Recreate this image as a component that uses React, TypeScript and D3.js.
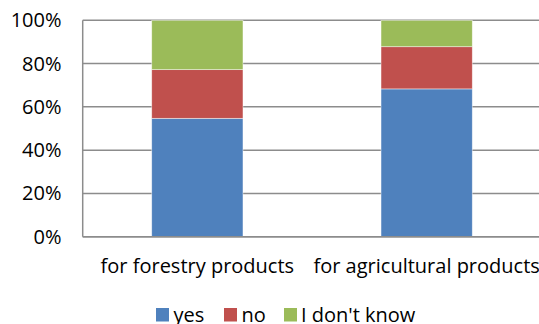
import React from "react";
import * as d3 from "d3";

const categories = ["for forestry products", "for agricultural products"];
const seriesNames = ["yes", "no", "I don't know"];
const yesValues = [54.7, 68.3];
const noValues = [22.5, 19.5];
const dontKnowValues = [22.8, 12.2];
const yTicks = [0, 20, 40, 60, 80, 100];
const colors = ["#4F81BD", "#C0504D", "#9BBB59"];

const W = 539;
const H = 324;
const plot = { left: 82.7, right: 541.3, top: 20.3, bottom: 236.7 };
const FONT = "'Open Sans', sans-serif";
const FS = 20;

export default function App() {
  const rows = categories.map((c, i) => ({
    category: c,
    yes: yesValues[i],
    no: noValues[i],
    "I don't know": dontKnowValues[i],
  }));
  const stacked = d3.stack<any>().keys(seriesNames)(rows);

  const x = d3
    .scaleBand<string>()
    .domain(categories)
    .range([plot.left, plot.right])
    .paddingInner(0.602)
    .paddingOuter(0.301);
  const y = d3.scaleLinear().domain([0, 100]).range([plot.bottom, plot.top]);

  const legendItems = [
    { name: "yes", sx: 156, tx: 173.5 },
    { name: "no", sx: 224, tx: 241.5 },
    { name: "I don't know", sx: 284, tx: 301 },
  ];

  return (
    <svg
      width={W}
      height={H}
      style={{ position: "fixed", left: 0, top: 0, background: "#fff" }}
      fontFamily={FONT}
    >
      <rect width={W} height={H} fill="#fff" />
      {/* horizontal gridlines */}
      {yTicks.map((t) => (
        <line
          key={t}
          x1={plot.left}
          x2={plot.right}
          y1={y(t)}
          y2={y(t)}
          stroke="#8c8c8c"
          strokeWidth={1.5}
        />
      ))}
      {/* stacked bars */}
      {stacked.map((s, si) =>
        s.map((d, i) => (
          <rect
            key={`${si}-${i}`}
            x={x(categories[i])}
            width={x.bandwidth()}
            y={y(d[1])}
            height={y(d[0]) - y(d[1])}
            fill={colors[si]}
            stroke="#ffffff"
            strokeOpacity={0.6}
            strokeWidth={0.75}
          />
        ))
      )}
      {/* axes */}
      <line
        x1={plot.left}
        x2={plot.left}
        y1={plot.top}
        y2={plot.bottom}
        stroke="#8c8c8c"
        strokeWidth={1.5}
      />
      <line
        x1={plot.left}
        x2={plot.right}
        y1={plot.bottom}
        y2={plot.bottom}
        stroke="#8c8c8c"
        strokeWidth={1.5}
      />
      {/* y tick labels */}
      {yTicks.map((t) => (
        <text
          key={t}
          x={61.5}
          y={y(t)}
          dy="0.35em"
          textAnchor="end"
          fontSize={FS}
          fill="#000"
        >
          {`${t}%`}
        </text>
      ))}
      {/* category labels */}
      {categories.map((c) => (
        <text
          key={c}
          x={(x(c) as number) + x.bandwidth() / 2}
          y={273}
          textAnchor="middle"
          fontSize={FS}
          fill="#000"
        >
          {c}
        </text>
      ))}
      {/* legend */}
      {legendItems.map((l, i) => (
        <g key={l.name}>
          <rect x={l.sx} y={308} width={13} height={13.5} fill={colors[i]} />
          <text x={l.tx} y={321.5} fontSize={FS} fill="#000">
            {l.name}
          </text>
        </g>
      ))}
    </svg>
  );
}
